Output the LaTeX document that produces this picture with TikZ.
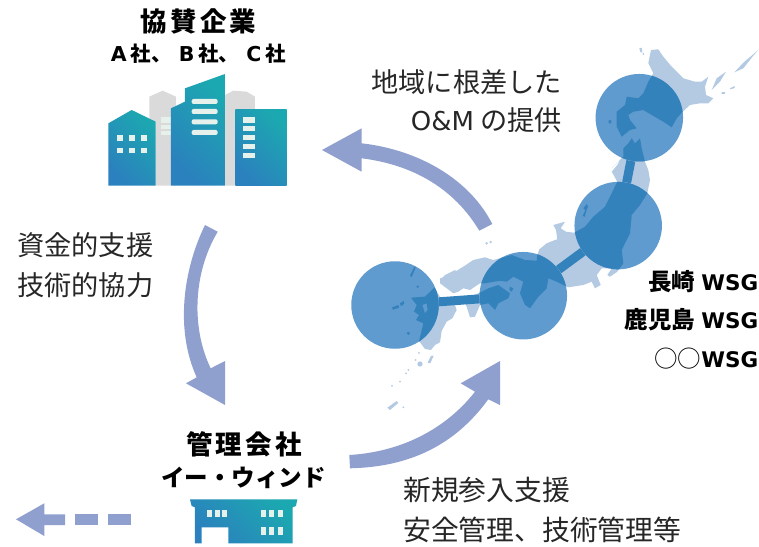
\documentclass[tikz,border=0pt]{standalone}
\usepackage{fontspec}
\setmainfont{Noto Sans CJK JP}
\newfontfamily\lat{DejaVu Sans}
\newfontfamily\spaced[LetterSpace=12]{Noto Sans CJK JP}
\definecolor{land}{HTML}{B3CAE2}
\definecolor{globe}{HTML}{5F9BCE}
\definecolor{link}{HTML}{3482BC}
\definecolor{arrowc}{HTML}{8F9FCE}
\definecolor{backb}{HTML}{DADADA}
\definecolor{win}{HTML}{E6F1EC}
\definecolor{bluet}{HTML}{2B80BE}
\definecolor{tealt}{HTML}{1CA8B0}
\tikzset{
  wsite/.style={circle,minimum size=87.5pt,inner sep=0pt,fill=globe},
  linkline/.style={draw=link,line width=9pt},
  flow/.style={fill=arrowc},
  tower/.style={bottom color=bluet,top color=tealt,shading angle=-45},
  pane/.style={fill=win},
  normaltxt/.style={font=\fontsize{27.8}{30}\selectfont,text=black!85,inner sep=0pt},
  lefttxt/.style={font=\fontsize{27.2}{30}\selectfont,text=black!85,inner sep=0pt},
  headtxt/.style={font=\fontsize{26.5}{28}\selectfont\spaced\bfseries,text=black,inner sep=0pt},
  subtxt/.style={font=\fontsize{23.5}{26}\selectfont\bfseries,text=black,inner sep=0pt},
  zoomA/.style={x=.3333pt,y=-.3333pt,shift={(580pt,-40pt)}},
  zoomB/.style={x=.3333pt,y=-.3333pt,shift={(345pt,-255pt)}},
  zoomC/.style={x=.3333pt,y=-.3333pt,shift={(530pt,-160pt)}},
  zoomD/.style={x=.3333pt,y=-.3333pt,shift={(430pt,-240pt)}},
  zoomE/.style={x=.3333pt,y=-.3333pt,shift={(90pt,0pt)}},
  zoomF/.style={x=.3333pt,y=-.3333pt,shift={(0pt,-420pt)}},
}
\newcommand\landshapes{%
\fill[land] (651,50)--(658.3,49.3)--(663.3,56.7)--(671.7,66.7)--(683.3,78.3)--(695,81.7)--(701.7,81.7)--(708.3,76.7)--(705,86.7)--(706,95)--(713.3,98.3)--(708.3,103.3)--(700,103.3)--(690,105)--(682.7,111.7)--(676.7,118.3)--(671.7,127.3)--(663.3,121.7)--(651.7,115)--(643.3,110)--(633.3,111.7)--(628.3,115)--(630,120)--(636.7,128.3)--(630,130)--(621.7,136.7)--(616.7,126.7)--(616.7,111.7)--(625,105)--(626.7,96.7)--(638.3,98.3)--(643.3,93.3)--(648.3,81.7)--(653.3,73.3)--(648.3,63)--cycle;
\fill[land] (623.3,148.3)--(628.3,143.3)--(631.7,138.3)--(635,143.3)--(640,138.3)--(641.7,148.3)--(645,161.7)--(648.3,170)--(650,180)--(647.3,193.3)--(640,205)--(631.7,215)--(630,233.3)--(621.7,250)--(623.3,263.3)--(617.3,271.7)--(610,276.7)--(607.3,275)--(611.7,268.3)--(601.7,268.3)--(596.7,275)--(600.7,285)--(595,288.3)--(591.7,281.7)--(583.3,285)--(568.3,287.3)--(563.3,285)--(556.7,281.7)--(548.3,278.3)--(546.7,288.3)--(538.3,296.7)--(530,308.3)--(525,305)--(520,293.3)--(523.3,281.7)--(513.3,276.7)--(506.7,281.7)--(500,280.7)--(485,283.3)--(480,283.3)--(470,290)--(463.3,288.3)--(458.3,291.7)--(453.3,293.3)--(446.7,288.3)--(440,283.3)--(440,278.3)--(446.7,276.7)--(463.3,266.7)--(473.3,260)--(485,257.3)--(493.3,260)--(511.7,255)--(525,260)--(536.7,260.7)--(537.3,255)--(539.3,249.3)--(546.7,243.3)--(555,240)--(557.3,239.3)--(556,230)--(553.3,225)--(565,221.7)--(560.7,228.3)--(566,231.7)--(574,232.7)--(585,226.7)--(593.3,216.7)--(605,206.7)--(610,196.7)--(617.3,181.7)--(611.7,171.7)--(617.3,165)--(620,160)--(611.7,168)--(623.3,156.7)--cycle;
\begin{scope}[zoomA]
\fill[land] (178,25)--(185,23)--(187,38)--(181,36)--cycle;
\fill[land] (190,42) circle (3);
\fill[land] (395,150)--(410,115)--(438,95)--(420,125)--cycle;
\fill[land] (463,97)--(490,68)--(535,30)--(520,47)--(490,85)--cycle;
\fill[land] (424,157)--(436,156)--(434,162)--(425,162)--cycle;
\fill[land] (450,145)--(464,138)--(464,144)--(452,148)--cycle;
\fill[land] (85,242)--(93,240)--(94,250)--(87,250)--cycle;
\end{scope}
\begin{scope}[zoomC]
\fill[land] (158,168)--(166,150)--(160,145)--(170,132)--(174,140)--(168,155)--(165,170)--cycle;
\end{scope}
\begin{scope}[zoomD]
\fill[land] (100,180)--(155,155)--(175,145)--(205,135)--(240,160)--(235,175)--(205,190)--(195,210)--(175,190)--(150,195)--(135,230)--(120,232)--(110,200)--cycle;
\fill[land] (240,140)--(250,145)--(245,155)--(238,150)--cycle;
\fill[land] (170,10) circle (4);\fill[land] (182,6) circle (4);
\end{scope}
\begin{scope}[zoomB]
\fill[land,even odd rule] (268,98)--(240,125)--(198,128)--(215,150)--(207,170)--(222,180)--(213,195)--(235,205)--(228,235)--(222,258)--(240,282)--(258,285)--(270,270)--(285,262)--(290,228)--(305,200)--(322,190)--(335,165)--(330,150)--(300,150)--(285,125)--cycle
 (232,150)--(245,145)--(248,165)--(240,175)--cycle;
\fill[land] (285,75)--(300,60)--(330,45)--(345,60)--(330,80)--(300,95)--cycle;
\fill[land] (195,62)--(208,35)--(212,38)--(200,66)--cycle;
\fill[land] (140,158)--(160,150)--(162,158)--(145,164)--cycle;
\fill[land] (165,145)--(176,138)--(178,146)--(168,154)--cycle;
\fill[land] (190,235) circle (5);\fill[land] (218,95) circle (4);
\fill[land] (248,323)--(258,303)--(266,302)--(256,325)--cycle;
\fill[land] (225,327) circle (8);
\foreach \px/\py in {222/294,212/315,190/345,183/355,165/380,141/393,175/457}\fill[land] (\px,\py) circle (3);
\fill[land] (127,458)--(155,438)--(160,444)--(135,465)--cycle;
\end{scope}}
\begin{document}
\begin{tikzpicture}[x=1pt,y=-1pt]
\useasboundingbox (0,0) rectangle (759,546);
% ---- office towers
\begin{scope}[zoomE]
\fill[backb] (178,290)--(218,272)--(258,290)--(258,400)--(243,400)--(243,557)--(196,557)--(196,365)--(178,365)--cycle;
\fill[backb] (405,285)--(430,272)--(470,275)--(495,290)--(495,340)--(436,340)--(436,557)--(405,557)--cycle;
\foreach \yy/\hh in {352/18,375/12,392/13}\fill[win] (212,\yy) rectangle (242,\yy+\hh);
\shade[tower] (55,370)--(125,330)--(197,365)--(197,557)--(55,557)--cycle;
\shade[tower] (243,325)--(285,305)--(285,265)--(405,222)--(405,557)--(243,557)--cycle;
\shade[tower] (436,330)--(590,330)--(590,557)--(436,557)--cycle;
\foreach \xx in {82,118,153}\foreach \yy in {405,443}\fill[pane] (\xx,\yy) rectangle (\xx+17,\yy+17);
\foreach \yy in {297,327,358,390}\fill[pane,rounded corners=2pt] (305,\yy) rectangle (383,\yy+15);
\foreach \yy in {352,378,405,432,458}\fill[pane] (458,\yy) rectangle (494,\yy+16);
\end{scope}
% ---- map of Japan
\landshapes
% ---- sites
\node[wsite] (siteA) at (639.3,117.7) {};
\node[wsite] (siteB) at (618.2,225.6) {};
\node[wsite] (siteC) at (523.3,295.7) {};
\node[wsite] (siteD) at (395,305) {};
\begin{scope}
\definecolor{land}{HTML}{3482BC}
\clip (639.3,117.7) circle (43.75) (618.2,225.6) circle (43.75) (523.3,295.7) circle (43.75) (395,305) circle (43.75);
\landshapes
\end{scope}
\draw[linkline] (siteA) -- (siteB);
\draw[linkline] (siteB) -- (siteC);
\draw[linkline] (siteC) -- (siteD);
% ---- flow arrows
\fill[flow] (492.3,224) .. controls (470,180) and (420,150) .. (361.7,143.3) -- (361.7,128.3) -- (322,150) -- (361.7,171.7) -- (361.7,158.3) .. controls (415,165) and (455,190) .. (479.3,230.7) -- cycle;
\fill[flow] (205,225) .. controls (183,270) and (175,330) .. (196.7,377.3) -- (186,383.3) -- (225,405) -- (225,361) -- (210.7,368.3) .. controls (192,330) and (192,275) .. (217.7,231.7) -- cycle;
\fill[flow] (349.3,455) .. controls (400,452) and (445,430) .. (475,391.7) -- (460.7,383.3) -- (500,361) -- (500,405) -- (488.3,399.3) .. controls (455,445) and (410,467) .. (350,468.3) -- cycle;
\fill[flow] (16,519.3) -- (44.3,503.3) -- (44.3,514.3) -- (65,514.3) -- (65,525) -- (44.3,525) -- (44.3,536) -- cycle;
\fill[flow] (75,514.3) rectangle (98.3,525);
\fill[flow] (108.3,514.3) rectangle (131,525);
% ---- management building
\begin{scope}[zoomF]
\shade[tower] (570,238)--(892,238)--(888,258)--(878,262)--(878,370)--(685,370)--(685,322)--(605,322)--(605,370)--(585,370)--(585,262)--(575,258)--cycle;
\foreach \xx in {622,645,665}\fill[pane] (\xx,270) rectangle (\xx+15,290);
\foreach \xx in {783,808,835}{\fill[pane] (\xx,270) rectangle (\xx+15,290);\fill[pane] (\xx,322) rectangle (\xx+15,345);}
\end{scope}
% ---- texts
\node[headtxt] (sponsor) at (198.5,21.5) {協賛企業};
\node[subtxt,font=\fontsize{20.5}{22}\selectfont\bfseries] (firms) at (198.5,54) {{\lat\bfseries A}\kern4pt 社、\kern7pt{\lat\bfseries B}\kern4pt 社、\kern7pt{\lat\bfseries C}\kern4pt 社};
\node[lefttxt,anchor=west] (fund) at (17,245) {資金的支援};
\node[lefttxt,anchor=west] (tech) at (17,285) {技術的協力};
\node[lefttxt,anchor=east] (local) at (562,82) {地域に根差した};
\node[lefttxt,anchor=east] (om) at (562,120) {{\lat\fontsize{26}{28}\selectfont O\&M} の提供};
\node[subtxt,anchor=east] (nagasaki) at (758.5,282) {長崎\kern6pt{\lat\bfseries\fontsize{21.5}{26}\selectfont WSG}};
\node[subtxt,anchor=east] (kagoshima) at (758.5,320) {鹿児島\kern6pt{\lat\bfseries\fontsize{21.5}{26}\selectfont WSG}};
\node[subtxt,anchor=east] (other) at (758.5,359) {{\mdseries ○○}{\lat\bfseries\fontsize{21.5}{26}\selectfont WSG}};
\node[headtxt] (mgmt) at (244,444) {管理会社};
\node[subtxt] (ewind) at (243.5,478) {イー・ウィンド};
\node[normaltxt,anchor=west] (entry) at (403,490) {新規参入支援};
\node[normaltxt,anchor=west] (safety) at (403,530) {安全管理、技術管理等};
\end{tikzpicture}
\end{document}
